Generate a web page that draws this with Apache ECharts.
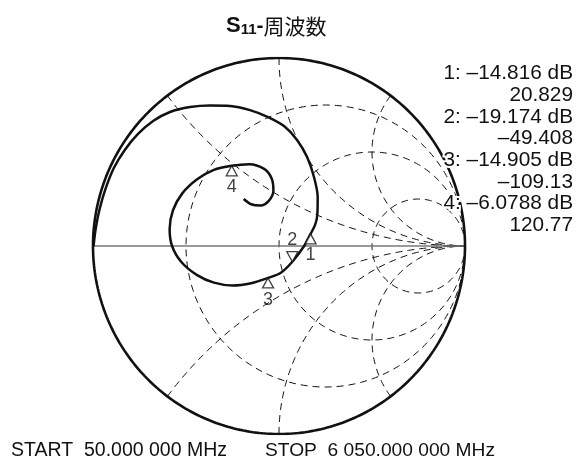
<!DOCTYPE html>
<html>
<head>
<meta charset="utf-8">
<script src="https://cdn.jsdelivr.net/npm/echarts@6/dist/echarts.min.js"></script>
<style>
html, body { margin: 0; padding: 0; background: #fff; }
#chart { width: 577px; height: 467px; }
</style>
</head>
<body>
<div id="chart"></div>
<script>
// S11 trace as reflection coefficient (real, imaginary), swept 50 MHz -> 6050 MHz
const traceRe = [-0.997, -0.985, -0.963, -0.931, -0.888, -0.829, -0.758, -0.677, -0.586, -0.478, -0.371, -0.263,
  -0.156, -0.059, 0.027, 0.097, 0.151, 0.188, 0.208, 0.206, 0.194, 0.1698, 0.135, 0.0716, 0.01, -0.0589,
  -0.15, -0.25, -0.35, -0.44, -0.525, -0.575, -0.588, -0.57, -0.52, -0.44, -0.35, -0.2541, -0.16, -0.08,
  -0.04, -0.03, -0.055, -0.10, -0.15, -0.19];
const traceIm = [0.0, 0.096, 0.202, 0.309, 0.415, 0.511, 0.596, 0.665, 0.713, 0.739, 0.747, 0.745,
  0.723, 0.686, 0.638, 0.564, 0.473, 0.367, 0.261, 0.165, 0.112, 0.0646, 0.0, -0.0835, -0.142, -0.1699,
  -0.198, -0.21, -0.195, -0.155, -0.085, 0.0, 0.09, 0.19, 0.28, 0.355, 0.405, 0.4267, 0.435, 0.41,
  0.36, 0.295, 0.24, 0.215, 0.222, 0.25];

// Marker readouts: log magnitude (dB) and phase (degrees)
const markerIds = ['1', '2', '3', '4'];
const markerDb = [-14.816, -19.174, -14.905, -6.0788];
const markerDeg = [20.829, -49.408, -109.13, 120.77];

// Smith chart grid: constant resistance circles and constant reactance arcs
const resistanceValues = [1 / 3, 1, 3];
const reactanceValues = [0.5, 1, 2, -0.5, -1, -2];

const titleMain = 'S';
const titleSub = '11';
const titleRest = '-';
const titleCjk = '周波数';
const startText = 'START  50.000 000 MHz';
const stopText = 'STOP  6 050.000 000 MHz';

const LATIN = '"Liberation Sans", Arial, Helvetica, sans-serif';
const CJK = '"Noto Sans CJK JP", "Noto Sans CJK SC", sans-serif';
const INK = '#111';

// ---- geometry helpers (in reflection-coefficient plane) ----
function circlePoints(cx, cy, r, n) {
  const pts = [];
  for (let i = 0; i <= n; i++) {
    const a = (2 * Math.PI * i) / n;
    pts.push([cx + r * Math.cos(a), cy + r * Math.sin(a)]);
  }
  return pts;
}
// Gamma = (z - 1) / (z + 1) with z = r + jx
function gammaOf(r, x) {
  const den = (r + 1) * (r + 1) + x * x;
  return [((r * r + x * x) - 1) / den, (2 * x) / den];
}
function reactancePoints(x, n) {
  const pts = [];
  for (let i = 0; i < n; i++) {
    const t = (i / n) * (Math.PI / 2);
    pts.push(gammaOf(Math.tan(t), x));
  }
  pts.push([1, 0]);
  return pts;
}

const dashed = { color: INK, width: 1, type: [7, 5] };
const series = [];

resistanceValues.forEach(function (r) {
  series.push({
    type: 'line', data: circlePoints(r / (1 + r), 0, 1 / (1 + r), 240),
    showSymbol: false, silent: true, lineStyle: dashed, z: 1
  });
});
reactanceValues.forEach(function (x) {
  series.push({
    type: 'line', data: reactancePoints(x, 300),
    showSymbol: false, silent: true, lineStyle: dashed, z: 1
  });
});

// real axis
series.push({
  type: 'line', data: [[-1, 0], [1, 0]], showSymbol: false, silent: true,
  lineStyle: { color: '#777', width: 1.5 }, z: 2
});
// unit circle
series.push({
  type: 'line', data: circlePoints(0, 0, 1, 360), showSymbol: false, silent: true,
  lineStyle: { color: INK, width: 2.6 }, z: 3
});
// measured trace
series.push({
  type: 'line', data: traceRe.map(function (v, i) { return [v, traceIm[i]]; }),
  showSymbol: false, silent: true, smooth: 0.3, smoothMonotone: 'none',
  lineStyle: { color: INK, width: 2.5 }, z: 4
});

// markers: hollow triangles whose apex sits on the marker point
const flipped = { '2': true };
series.push({
  type: 'scatter', silent: true, z: 6,
  data: markerIds.map(function (id, i) {
    const mag = Math.pow(10, markerDb[i] / 20);
    const a = markerDeg[i] * Math.PI / 180;
    const down = !!flipped[id];
    return {
      value: [mag * Math.cos(a), mag * Math.sin(a)],
      symbolRotate: down ? 180 : 0,
      symbolOffset: [0, down ? -5 : 5],
      label: {
        show: true, formatter: id, position: down ? 'top' : 'bottom', distance: 2,
        fontFamily: LATIN, fontSize: 18, color: INK
      }
    };
  }),
  symbol: 'triangle', symbolSize: [11, 10],
  itemStyle: { color: '#fff', borderColor: INK, borderWidth: 1.3 }
});

// marker readout text block (white halo knocks out the lines behind it)
function fmt(v) { return v < 0 ? '\u2013' + String(-v) : String(v); }
function readout(text, y) {
  return {
    type: 'text', x: 573, y: y, silent: true, z: 100,
    style: { text: text, font: '20.8px ' + LATIN, fill: INK, stroke: '#fff', lineWidth: 4,
      align: 'right', textAlign: 'right', verticalAlign: 'middle', textVerticalAlign: 'middle' }
  };
}
const graphics = [];
markerIds.forEach(function (id, i) {
  const y0 = 73.5 + i * 43.4;
  graphics.push(readout(id + ': ' + fmt(markerDb[i]) + ' dB', y0));
  graphics.push(readout(fmt(markerDeg[i]), y0 + 21.7));
});
graphics.push({
  type: 'text', x: 11, y: 450.5, silent: true,
  style: { text: startText, font: '19.5px ' + LATIN, fill: INK,
    align: 'left', textAlign: 'left', verticalAlign: 'middle', textVerticalAlign: 'middle' }
});
graphics.push({
  type: 'text', x: 265, y: 450.5, silent: true,
  style: { text: stopText, font: '19.2px ' + LATIN, fill: INK,
    align: 'left', textAlign: 'left', verticalAlign: 'middle', textVerticalAlign: 'middle' }
});

const chart = echarts.init(document.getElementById('chart'), null, { renderer: 'canvas' });
chart.setOption({
  animation: false,
  backgroundColor: '#fff',
  title: {
    text: '{a|' + titleMain + '}{b|' + titleSub + '}{c|' + titleRest + '}{d|' + titleCjk + '}',
    left: 221, top: 5,
    textStyle: {
      rich: {
        a: { fontFamily: LATIN, fontWeight: 'bold', fontSize: 22, lineHeight: 27, verticalAlign: 'bottom', color: INK },
        b: { fontFamily: LATIN, fontWeight: 'bold', fontSize: 15, lineHeight: 20, verticalAlign: 'bottom', color: INK },
        c: { fontFamily: LATIN, fontWeight: 'bold', fontSize: 21, lineHeight: 27, verticalAlign: 'bottom', color: INK },
        d: { fontFamily: CJK, fontWeight: 'normal', fontSize: 21, lineHeight: 27, verticalAlign: 'bottom', color: INK }
      }
    }
  },
  grid: { left: 93, top: 58, width: 372, height: 376, containLabel: false },
  xAxis: { type: 'value', min: -1, max: 1, show: false },
  yAxis: { type: 'value', min: -1, max: 1, show: false },
  series: series,
  graphic: graphics
});
</script>
</body>
</html>
